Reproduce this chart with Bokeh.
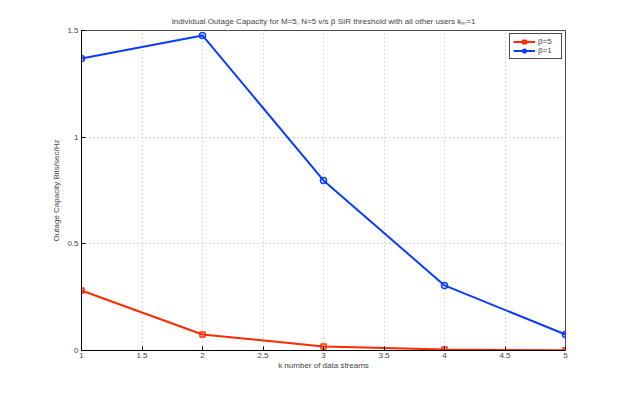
from bokeh.plotting import figure
from bokeh.models import Range1d, FixedTicker, Legend, LegendItem
from bokeh.embed import file_html
from bokeh.resources import INLINE

k = [1, 2, 3, 4, 5]
beta5 = [0.281, 0.075, 0.019, 0.005, 0.001]
beta1 = [1.369, 1.477, 0.797, 0.305, 0.075]
x_ticks = [1, 1.5, 2, 2.5, 3, 3.5, 4, 4.5, 5]
y_ticks = [0, 0.5, 1, 1.5]

FONT = "Liberation Sans"

p = figure(width=615, height=386, output_backend="svg", toolbar_location=None,
           x_range=Range1d(1, 5), y_range=Range1d(0, 1.5),
           min_border_left=81, min_border_right=50, min_border_top=30, min_border_bottom=36)
p.title.text = "Individual Outage Capacity for M=5, N=5 v/s β SIR threshold with all other users kₘ=1"
p.title.align = "center"
p.title.text_font = FONT
p.title.text_font_size = "8px"
p.title.text_font_style = "normal"
p.title.standoff = 9

p.outline_line_color = "black"
p.outline_line_alpha = 0.7
p.background_fill_color = "white"
p.border_fill_color = "white"

for ax in (p.xaxis[0], p.yaxis[0]):
    ax.major_label_text_font = FONT
    ax.major_label_text_font_size = "8px"
    ax.axis_label_text_font = FONT
    ax.axis_label_text_font_size = "8px"
    ax.axis_label_text_font_style = "normal"
    ax.major_tick_in = 4
    ax.major_tick_out = 0
    ax.minor_tick_line_color = None
    ax.axis_line_color = "black"

p.xaxis[0].ticker = FixedTicker(ticks=x_ticks)
p.yaxis[0].ticker = FixedTicker(ticks=y_ticks)
p.xaxis.major_label_overrides = {1: "1", 2: "2", 3: "3", 4: "4", 5: "5"}
p.yaxis.major_label_overrides = {0: "0", 1: "1"}
p.xaxis.axis_label = "k number of data streams"
p.yaxis.axis_label = "Outage Capacity Bits/sec/Hz"
p.xaxis.major_label_standoff = 2
p.yaxis.major_label_standoff = 3
p.xaxis.axis_label_standoff = 0
p.yaxis.axis_label_standoff = 3

p.xgrid.ticker = FixedTicker(ticks=x_ticks)
p.ygrid.ticker = FixedTicker(ticks=y_ticks)
for g in (p.xgrid[0], p.ygrid[0]):
    g.grid_line_color = "#b0b0b0"
    g.grid_line_dash = "1 3"
    g.grid_line_width = 1

red = "#ff2a00"
blue = "#0a3cff"
r1 = p.line(k, beta5, line_color=red, line_width=2)
r1m = p.scatter(k, beta5, marker="square", size=5, line_color=red, fill_color=None, line_width=1.5)
r2 = p.line(k, beta1, line_color=blue, line_width=2)
r2m = p.scatter(k, beta1, marker="circle", size=6, line_color=blue, fill_color=None, line_width=1.5)

legend = Legend(items=[LegendItem(label="β=5", renderers=[r1, r1m]),
                       LegendItem(label="β=1", renderers=[r2, r2m])],
                location="top_right")
legend.label_text_font = FONT
legend.label_text_font_size = "8px"
legend.glyph_width = 22
legend.glyph_height = 9
legend.label_height = 9
legend.spacing = 0
legend.padding = 3
legend.margin = 3
legend.border_line_color = "black"
legend.border_line_alpha = 0.7
legend.label_standoff = 3
p.add_layout(legend)

open("out.html", "w").write(file_html(p, INLINE))
